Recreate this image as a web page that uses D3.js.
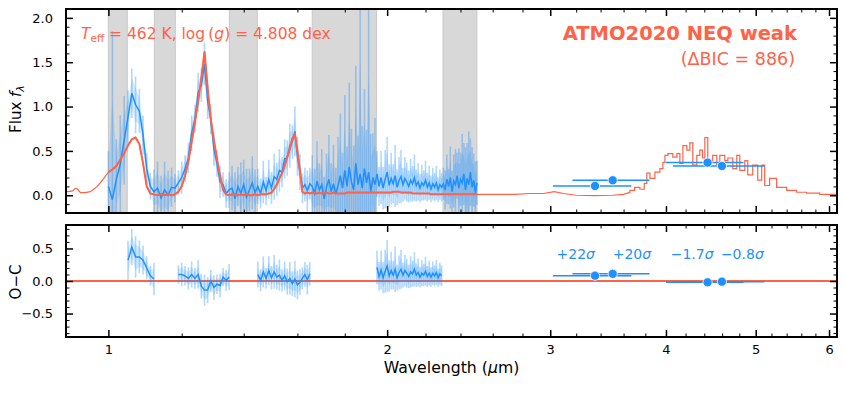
<!DOCTYPE html>
<html>
<head>
<meta charset="utf-8">
<script src="https://cdn.jsdelivr.net/npm/d3@7"></script>
<style>
  body { margin: 0; background: #fff; }
  svg { font-family: "DejaVu Sans", sans-serif; }
</style>
</head>
<body>
<svg id="chart" width="844" height="394"></svg>
<script>
// spectrum (micron), flux, 1-sigma error, model on the same grid
var specWave = [
  1.00, 1.01, 1.02, 1.03, 1.04, 1.05, 1.06, 1.07, 1.08, 1.09,
  1.10, 1.11, 1.12, 1.13, 1.14, 1.15, 1.16, 1.17, 1.18, 1.19,
  1.20, 1.21, 1.22, 1.23, 1.24, 1.25, 1.26, 1.27, 1.28, 1.29,
  1.30, 1.31, 1.32, 1.33, 1.34, 1.35, 1.36, 1.37, 1.38, 1.39,
  1.40, 1.41, 1.42, 1.43, 1.44, 1.45, 1.46, 1.47, 1.48, 1.49,
  1.50, 1.51, 1.52, 1.53, 1.54, 1.55, 1.56, 1.57, 1.58, 1.59,
  1.60, 1.61, 1.62, 1.63, 1.64, 1.65, 1.66, 1.67, 1.68, 1.69,
  1.70, 1.71, 1.72, 1.73, 1.74, 1.75, 1.76, 1.77, 1.78, 1.79,
  1.80, 1.81, 1.82, 1.83, 1.84, 1.85, 1.86, 1.87, 1.88, 1.89,
  1.90, 1.91, 1.92, 1.93, 1.94, 1.95, 1.96, 1.97, 1.98, 1.99,
  2.00, 2.01, 2.02, 2.03, 2.04, 2.05, 2.06, 2.07, 2.08, 2.09,
  2.10, 2.11, 2.12, 2.13, 2.14, 2.15, 2.16, 2.17, 2.18, 2.19,
  2.20, 2.21, 2.22, 2.23, 2.24, 2.25, 2.26, 2.27, 2.28, 2.29,
  2.30, 2.31, 2.32, 2.33, 2.34, 2.35, 2.36, 2.37, 2.38, 2.39,
  2.40, 2.41, 2.42, 2.43, 2.44, 2.45, 2.46, 2.47, 2.48, 2.49,
  2.50
];
var specFlux = [
  0.10, -0.05, 0.18, 0.35, 0.62, 0.88, 1.15, 1.02, 0.95, 0.68,
  0.30, 0.10, 0.04, 0.08, -0.03, 0.06, 0.00, 0.09, 0.08, 0.14,
  0.20, 0.30, 0.42, 0.70, 0.86, 1.16, 1.24, 1.48, 1.06, 0.86,
  0.52, 0.36, 0.15, 0.12, 0.02, 0.06, 0.08, -0.04, 0.10, 0.02,
  0.12, -0.02, 0.06, 0.14, 0.03, 0.10, 0.02, 0.15, 0.05, 0.18,
  0.08, 0.21, 0.18, 0.28, 0.26, 0.41, 0.42, 0.56, 0.60, 0.72,
  0.44, 0.26, 0.08, 0.12, 0.05, 0.13, 0.10, 0.02, 0.16, 0.06,
  0.12, -0.04, 0.09, 0.18, 0.04, 0.13, 0.01, 0.11, 0.22, 0.08,
  0.28, 0.10, 0.32, 0.15, 0.06, 0.36, 0.12, 0.24, 0.08, 0.30,
  0.14, 0.26, 0.04, 0.20, 0.12, 0.24, 0.10, 0.20, 0.08, 0.18,
  0.26, 0.11, 0.19, 0.13, 0.22, 0.09, 0.17, 0.21, 0.12, 0.19,
  0.15, 0.10, 0.17, 0.13, 0.20, 0.11, 0.15, 0.08, 0.14, 0.11,
  0.17, 0.09, 0.14, 0.07, 0.13, 0.09, 0.14, 0.06, 0.12, 0.09,
  0.13, 0.06, 0.18, 0.10, 0.20, 0.04, 0.16, 0.12, 0.22, 0.08,
  0.18, 0.14, 0.24, 0.06, 0.19, 0.12, 0.26, 0.09, 0.17, 0.03,
  0.14
];
var specErr = [
  0.40, 1.90, 0.45, 0.55, 0.50, 0.30, 0.28, 0.32, 0.25, 0.22,
  0.18, 0.15, 0.25, 0.30, 0.25, 0.32, 0.28, 0.22, 0.16, 0.14,
  0.18, 0.15, 0.17, 0.20, 0.16, 0.22, 0.19, 0.24, 0.20, 0.17,
  0.19, 0.15, 0.18, 0.14, 0.16, 0.20, 0.25, 0.30, 0.22, 0.35,
  0.28, 0.32, 0.24, 0.30, 0.26, 0.20, 0.17, 0.24, 0.16, 0.22,
  0.18, 0.26, 0.19, 0.24, 0.17, 0.22, 0.20, 0.25, 0.19, 0.28,
  0.22, 0.20, 0.17, 0.19, 0.23, 0.18, 0.35, 0.28, 0.45, 0.30,
  0.40, 0.25, 0.38, 0.50, 0.32, 0.44, 0.30, 0.55, 0.70, 0.40,
  0.85, 0.45, 0.95, 0.60, 0.50, 1.10, 0.55, 2.10, 0.70, 0.90,
  0.60, 1.90, 0.65, 0.50, 0.75, 0.26, 0.22, 0.30, 0.24, 0.33,
  0.40, 0.24, 0.29, 0.22, 0.35, 0.20, 0.26, 0.30, 0.19, 0.24,
  0.22, 0.18, 0.24, 0.20, 0.26, 0.18, 0.21, 0.16, 0.20, 0.17,
  0.22, 0.16, 0.19, 0.15, 0.18, 0.16, 0.19, 0.14, 0.17, 0.16,
  0.18, 0.22, 0.28, 0.20, 0.35, 0.24, 0.30, 0.40, 0.26, 0.45,
  0.30, 0.55, 0.35, 0.48, 0.40, 0.60, 0.38, 0.45, 0.30, 0.35,
  0.25
];
var specModel = [
  0.26, 0.29, 0.33, 0.40, 0.47, 0.56, 0.63, 0.65, 0.58, 0.36,
  0.10, 0.02, 0.01, 0.00, 0.01, 0.00, 0.01, 0.00, 0.01, 0.04,
  0.10, 0.22, 0.38, 0.60, 0.82, 1.06, 1.32, 1.62, 1.20, 0.86,
  0.62, 0.41, 0.22, 0.06, 0.01, 0.00, 0.01, 0.00, 0.00, 0.01,
  0.00, 0.01, 0.00, 0.00, 0.01, 0.00, 0.01, 0.01, 0.01, 0.02,
  0.03, 0.07, 0.12, 0.19, 0.25, 0.33, 0.43, 0.52, 0.64, 0.69,
  0.50, 0.28, 0.04, 0.02, 0.03, 0.02, 0.03, 0.02, 0.02, 0.03,
  0.02, 0.02, 0.03, 0.02, 0.02, 0.03, 0.02, 0.02, 0.02, 0.02,
  0.02, 0.03, 0.03, 0.03, 0.03, 0.03, 0.03, 0.03, 0.03, 0.03,
  0.03, 0.03, 0.03, 0.03, 0.03, 0.03, 0.03, 0.03, 0.03, 0.03,
  0.03, 0.03, 0.03, 0.04, 0.04, 0.04, 0.04, 0.03, 0.03, 0.03,
  0.03, 0.03, 0.03, 0.02, 0.02, 0.02, 0.02, 0.02, 0.02, 0.02,
  0.02, 0.02, 0.02, 0.01, 0.01, 0.01, 0.01, 0.01, 0.01, 0.01,
  0.01, 0.01, 0.01, 0.01, 0.01, 0.01, 0.01, 0.01, 0.01, 0.01,
  0.01, 0.01, 0.01, 0.01, 0.01, 0.01, 0.01, 0.01, 0.01, 0.01,
  0.01
];

// model outside the spectrum
var modelBlueWave = [0.90, 0.905, 0.915, 0.922, 0.926, 0.933, 0.944, 0.956, 0.965, 0.973, 0.980, 0.990];
var modelBlueFlux = [0.04, 0.04, 0.05, 0.08, 0.07, 0.03, 0.03, 0.04, 0.07, 0.10, 0.14, 0.20];
var modelRedWave = [2.55, 2.65, 2.75, 2.85, 2.95, 3.03, 3.10, 3.20, 3.35, 3.50, 3.60, 3.65];
var modelRedFlux = [0.01, 0.01, 0.01, 0.02, 0.02, 0.04, 0.02, 0.00, -0.005, 0.00, 0.01, 0.03];
// binned model at long wavelengths (left bin edges)
var binWave = [3.657, 3.70, 3.749, 3.79, 3.814, 3.844, 3.892, 3.94, 3.97, 3.99,
  4.019, 4.069, 4.11, 4.141, 4.172, 4.213, 4.245, 4.276, 4.319, 4.351,
  4.38, 4.406, 4.438, 4.493, 4.539, 4.573, 4.63, 4.665, 4.723, 4.77,
  4.806, 4.866, 4.902, 4.963, 5.025, 5.075, 5.113, 5.176, 5.267, 5.40,
  5.536, 5.675, 5.863, 6.12];
var binFlux = [0.056, 0.09, 0.068, 0.135, 0.25, 0.19, 0.26, 0.30, 0.37, 0.45,
  0.47, 0.43, 0.47, 0.36, 0.56, 0.51, 0.59, 0.34, 0.45, 0.51,
  0.42, 0.65, 0.39, 0.45, 0.34, 0.45, 0.39, 0.42, 0.30, 0.45,
  0.28, 0.39, 0.23, 0.34, 0.17, 0.34, 0.11, 0.19, 0.09, 0.056,
  0.034, 0.023, 0.011, 0.011];

// photometry
var photWave = [3.353, 3.504, 4.436, 4.597];
var photLo = [3.02, 3.17, 4.00, 4.07];
var photHi = [3.67, 3.84, 4.85, 5.11];
var photFlux = [0.105, 0.169, 0.368, 0.33];
var photResid = [0.082, 0.11, -0.02, -0.01];
var photSigma = ["+22", "+20", "\u22121.7", "\u22120.8"];

// masked (grey) wavelength ranges
var bandStart = [1.0, 1.121, 1.351, 1.66, 2.298];
var bandEnd = [1.048, 1.181, 1.448, 1.948, 2.50];

var xMajor = [1, 2, 3, 4, 5, 6];
var xMinor = d3.range(1.2, 6.01, 0.2).filter(function(v) { return Math.abs(v - Math.round(v)) > 0.01; });
var y1Major = [0, 0.5, 1, 1.5, 2];
var y2Major = [-0.5, 0, 0.5];

var blue = "#1e90ff", red = "#ff6347";
var left = 66, right = 837;
var top1 = 9, bot1 = 213, top2 = 225, bot2 = 337;

var x = d3.scaleLog().domain([0.9, 6.12]).range([left, right]);
var y1 = d3.scaleLinear().domain([-0.2, 2.1]).range([bot1, top1]);
var y2 = d3.scaleLinear().domain([-0.86, 0.86]).range([bot2, top2]);

function inBand(w) {
  for (var k = 0; k < bandStart.length; k++) {
    if (w >= bandStart[k] && w <= bandEnd[k]) return true;
  }
  return false;
}

var spec = specWave.map(function(w, i) {
  return {w: w, f: specFlux[i], e: specErr[i], m: specModel[i], masked: inBand(w)};
});

var svg = d3.select("#chart");
var defs = svg.append("defs");
defs.append("clipPath").attr("id", "clipTop").append("rect")
  .attr("x", left).attr("y", top1).attr("width", right - left).attr("height", bot1 - top1);
defs.append("clipPath").attr("id", "clipBot").append("rect")
  .attr("x", left).attr("y", top2).attr("width", right - left).attr("height", bot2 - top2);

var gTop = svg.append("g").attr("clip-path", "url(#clipTop)");
var gBot = svg.append("g").attr("clip-path", "url(#clipBot)");

// draws error envelope + bars + data line for a set of points
function drawSpec(g, ys, val, data, defined) {
  g.append("path").datum(data)
    .attr("fill", blue).attr("fill-opacity", 0.18)
    .attr("d", d3.area()
      .defined(defined)
      .x(function(d) { return x(d.w); })
      .y0(function(d) { return ys(val(d) - 0.6 * d.e); })
      .y1(function(d) { return ys(val(d) + 0.6 * d.e); }));
  g.selectAll("line.err").data(data.filter(defined)).enter().append("line")
    .attr("class", "err")
    .attr("x1", function(d) { return x(d.w); })
    .attr("x2", function(d) { return x(d.w); })
    .attr("y1", function(d) { return ys(val(d) - d.e); })
    .attr("y2", function(d) { return ys(val(d) + d.e); })
    .attr("stroke", blue).attr("stroke-opacity", 0.35).attr("stroke-width", 1.6);
  g.append("path").datum(data)
    .attr("fill", "none").attr("stroke", blue).attr("stroke-width", 1.5)
    .attr("d", d3.line()
      .defined(defined)
      .x(function(d) { return x(d.w); })
      .y(function(d) { return ys(val(d)); }));
}

// ---- top panel
gTop.selectAll("rect.band").data(bandStart).enter().append("rect")
  .attr("class", "band")
  .attr("x", function(d) { return x(d); })
  .attr("width", function(d, i) { return x(bandEnd[i]) - x(d); })
  .attr("y", top1).attr("height", bot1 - top1)
  .attr("fill", "#d8d8d8").attr("stroke", "#c8c8c8");

drawSpec(gTop, y1, function(d) { return d.f; }, spec, function() { return true; });

var modelLine = [];
modelBlueWave.forEach(function(w, i) { modelLine.push([w, modelBlueFlux[i]]); });
spec.forEach(function(d) { modelLine.push([d.w, d.m]); });
modelRedWave.forEach(function(w, i) { modelLine.push([w, modelRedFlux[i]]); });
var modelBins = [modelLine[modelLine.length - 1]];
binWave.forEach(function(w, i) { modelBins.push([w, binFlux[i]]); });

var mLine = d3.line().x(function(d) { return x(d[0]); }).y(function(d) { return y1(d[1]); });
gTop.append("path").datum(modelLine)
  .attr("fill", "none").attr("stroke", red).attr("stroke-width", 1.2).attr("d", mLine);
gTop.append("path").datum(spec.map(function(d) { return [d.w, d.m]; }))
  .attr("fill", "none").attr("stroke", red).attr("stroke-width", 2).attr("d", mLine);
gTop.append("path").datum(modelBins)
  .attr("fill", "none").attr("stroke", red).attr("stroke-width", 1.2)
  .attr("d", d3.line().curve(d3.curveStepAfter)
    .x(function(d) { return x(d[0]); }).y(function(d) { return y1(d[1]); }));

function drawPhot(g, ys, vals) {
  g.selectAll("line.perr").data(photWave).enter().append("line")
    .attr("class", "perr")
    .attr("x1", function(d, i) { return x(photLo[i]); })
    .attr("x2", function(d, i) { return x(photHi[i]); })
    .attr("y1", function(d, i) { return ys(vals[i]); })
    .attr("y2", function(d, i) { return ys(vals[i]); })
    .attr("stroke", blue).attr("stroke-width", 1.5);
  g.selectAll("circle.pt").data(photWave).enter().append("circle")
    .attr("class", "pt")
    .attr("cx", function(d) { return x(d); })
    .attr("cy", function(d, i) { return ys(vals[i]); })
    .attr("r", 4.6)
    .attr("fill", blue).attr("stroke", "#fff").attr("stroke-width", 0.8);
}
drawPhot(gTop, y1, photFlux);

// ---- residual panel
gBot.append("line")
  .attr("x1", left).attr("x2", right).attr("y1", y2(0)).attr("y2", y2(0))
  .attr("stroke", red).attr("stroke-width", 2);

drawSpec(gBot, y2, function(d) { return d.f - d.m; }, spec, function(d) { return !d.masked; });

drawPhot(gBot, y2, photResid);

var sigAnchor = ["end", "start", "end", "start"];
var sigDx = [0, 0, 6, -1];
photSigma.forEach(function(s, i) {
  var t = svg.append("text")
    .attr("x", x(photWave[i]) + sigDx[i]).attr("y", 259)
    .attr("text-anchor", sigAnchor[i])
    .attr("font-size", 14).attr("fill", blue);
  t.append("tspan").text(s);
  t.append("tspan").attr("font-style", "italic").text("\u03c3");
});

// ---- axes
function drawAxes(ys, yt, yb, yMajor, xLabels) {
  var yMinor = d3.range(Math.ceil(ys.domain()[0] * 10), Math.floor(ys.domain()[1] * 10) + 1)
    .map(function(v) { return v / 10; })
    .filter(function(v) { return yMajor.indexOf(v) < 0; });
  var g = svg.append("g");
  var none = function() { return ""; };

  g.append("g").attr("class", "major").attr("transform", "translate(0," + yb + ")")
    .call(d3.axisBottom(x).tickValues(xMajor).tickSizeInner(-7).tickSizeOuter(0).tickPadding(8)
      .tickFormat(xLabels ? d3.format("d") : none));
  g.append("g").attr("class", "minor").attr("transform", "translate(0," + yb + ")")
    .call(d3.axisBottom(x).tickValues(xMinor).tickSizeInner(-3.5).tickSizeOuter(0).tickFormat(none));
  g.append("g").attr("class", "major").attr("transform", "translate(0," + yt + ")")
    .call(d3.axisTop(x).tickValues(xMajor).tickSizeInner(-7).tickSizeOuter(0).tickFormat(none));
  g.append("g").attr("class", "minor").attr("transform", "translate(0," + yt + ")")
    .call(d3.axisTop(x).tickValues(xMinor).tickSizeInner(-3.5).tickSizeOuter(0).tickFormat(none));

  g.append("g").attr("class", "major").attr("transform", "translate(" + left + ",0)")
    .call(d3.axisLeft(ys).tickValues(yMajor).tickSizeInner(-7).tickSizeOuter(0).tickPadding(13)
      .tickFormat(d3.format(".1f")));
  g.append("g").attr("class", "minor").attr("transform", "translate(" + left + ",0)")
    .call(d3.axisLeft(ys).tickValues(yMinor).tickSizeInner(-3.5).tickSizeOuter(0).tickFormat(none));
  g.append("g").attr("class", "major").attr("transform", "translate(" + right + ",0)")
    .call(d3.axisRight(ys).tickValues(yMajor).tickSizeInner(-7).tickSizeOuter(0).tickFormat(none));
  g.append("g").attr("class", "minor").attr("transform", "translate(" + right + ",0)")
    .call(d3.axisRight(ys).tickValues(yMinor).tickSizeInner(-3.5).tickSizeOuter(0).tickFormat(none));

  g.selectAll(".domain").remove();
  g.selectAll("g").attr("font-family", "DejaVu Sans, sans-serif").attr("font-size", 13);
  g.selectAll(".major .tick line").attr("stroke", "#000").attr("stroke-width", 1.5);
  g.selectAll(".minor .tick line").attr("stroke", "#000").attr("stroke-width", 1);
  g.selectAll(".tick text").attr("fill", "#000");

  g.append("rect")
    .attr("x", left).attr("y", yt).attr("width", right - left).attr("height", yb - yt)
    .attr("fill", "none").attr("stroke", "#000").attr("stroke-width", 2);
}
drawAxes(y1, top1, bot1, y1Major, false);
drawAxes(y2, top2, bot2, y2Major, true);

// ---- labels
var fl = svg.append("text").attr("transform", "translate(21,109) rotate(-90)")
  .attr("text-anchor", "middle").attr("font-size", 15).attr("fill", "#000");
fl.append("tspan").text("Flux ");
fl.append("tspan").attr("font-style", "italic").text("f");
fl.append("tspan").attr("font-style", "italic").attr("font-size", 11).attr("dy", 3).text("\u03bb");

svg.append("text").attr("transform", "translate(21,282) rotate(-90)")
  .attr("text-anchor", "middle").attr("font-size", 15).attr("fill", "#000")
  .text("O\u2212C");

var xl = svg.append("text").attr("x", (left + right) / 2).attr("y", 373)
  .attr("text-anchor", "middle").attr("font-size", 15.7).attr("fill", "#000");
xl.append("tspan").text("Wavelength (");
xl.append("tspan").attr("font-style", "italic").text("\u03bc");
xl.append("tspan").text("m)");

var tp = svg.append("text").attr("x", 81).attr("y", 39)
  .attr("font-size", 15.5).attr("fill", red);
tp.append("tspan").attr("font-style", "italic").text("T");
tp.append("tspan").attr("font-size", 10.5).attr("dy", 3).text("eff");
tp.append("tspan").attr("dy", -3).text(" = 462 K, log\u2009(");
tp.append("tspan").attr("font-style", "italic").text("g");
tp.append("tspan").text(") = 4.808 dex");

svg.append("text").attr("x", 797).attr("y", 39.5)
  .attr("text-anchor", "end").attr("font-size", 19.5).attr("font-weight", "bold").attr("fill", red)
  .text("ATMO2020 NEQ weak");
svg.append("text").attr("x", 795).attr("y", 65)
  .attr("text-anchor", "end").attr("font-size", 17.5).attr("fill", red)
  .text("(\u0394BIC = 886)");
</script>
</body>
</html>
